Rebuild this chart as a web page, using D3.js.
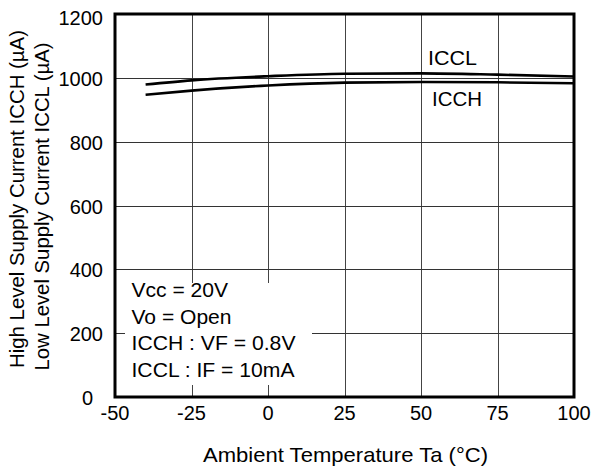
<!DOCTYPE html>
<html><head><meta charset="utf-8">
<script src="https://cdn.jsdelivr.net/npm/d3@7"></script>
<style>body{margin:0;background:#fff}svg{display:block}text{font-family:"Liberation Sans",Arial,sans-serif;fill:#000}</style>
</head><body>
<svg id="c" width="591" height="473"></svg>
<script>
const temps = [-40, -25, 0, 25, 50, 75, 100];
const icclValues = [979, 992, 1005, 1013, 1014, 1010, 1004];
const icchValues = [947, 960, 976, 985, 987, 986, 983];
const xTicks = [-50, -25, 0, 25, 50, 75, 100];
const yTicks = [0, 200, 400, 600, 800, 1000, 1200];
const conditions = ["Vcc = 20V", "Vo = Open", "ICCH : VF = 0.8V", "ICCL : IF = 10mA"];
const yTitleLines = ["High Level Supply Current ICCH (µA)", "Low Level Supply Current ICCL (µA)"];
const xTitle = "Ambient Temperature Ta (°C)";

const L = 115, R = 574, T = 14, B = 397;
const svg = d3.select("#c");
const x = d3.scaleLinear().domain([-50, 100]).range([L, R]);
const y = d3.scaleLinear().domain([0, 1200]).range([B, T]);

// grid
const g = svg.append("g");
g.selectAll("line.v").data(xTicks.slice(1, -1)).enter().append("line")
  .attr("x1", d => Math.round(x(d)) + 0.5).attr("x2", d => Math.round(x(d)) + 0.5).attr("y1", T).attr("y2", B)
  .attr("stroke", "#444").attr("stroke-width", 1);
g.selectAll("line.h").data(yTicks.slice(1, -1)).enter().append("line")
  .attr("x1", L).attr("x2", R).attr("y1", d => Math.round(y(d)) + 0.5).attr("y2", d => Math.round(y(d)) + 0.5)
  .attr("stroke", "#333").attr("stroke-width", 1);

// condition box (white) covering grid
svg.append("rect").attr("x", 125).attr("y", 283).attr("width", 187).attr("height", 102).attr("fill", "#fff");
const condLen = [96.6, 100, 164, 163];
svg.selectAll("text.cond").data(conditions).enter().append("text")
  .attr("x", 131.5).attr("y", (d, i) => 297 + i * 26.7)
  .attr("font-size", 20).attr("textLength", (d, i) => condLen[i]).attr("lengthAdjust", "spacingAndGlyphs")
  .text(d => d);

// curves
const line = d3.line().x(d => x(d[0])).y(d => y(d[1])).curve(d3.curveMonotoneX);
[icclValues, icchValues].forEach(vals => {
  svg.append("path").datum(temps.map((t, i) => [t, vals[i]]))
    .attr("d", line).attr("fill", "none").attr("stroke", "#000").attr("stroke-width", 2.6);
});
svg.append("text").attr("x", 428).attr("y", 65).attr("font-size", 20)
  .attr("textLength", 49).attr("lengthAdjust", "spacingAndGlyphs").text("ICCL");
svg.append("text").attr("x", 432).attr("y", 106).attr("font-size", 20)
  .attr("textLength", 50).attr("lengthAdjust", "spacingAndGlyphs").text("ICCH");

// frame
svg.append("rect").attr("x", L).attr("y", T).attr("width", R - L).attr("height", B - T)
  .attr("fill", "none").attr("stroke", "#000").attr("stroke-width", 3);

// y tick labels
svg.selectAll("text.yt").data(yTicks).enter().append("text")
  .attr("x", d => d === 0 ? 93 : 103).attr("y", d => y(d) + (d === 1200 ? 11 : 8))
  .attr("text-anchor", "end").attr("font-size", 20).text(d => d);
// x tick labels
svg.selectAll("text.xt").data(xTicks).enter().append("text")
  .attr("x", d => x(d)).attr("y", 420)
  .attr("text-anchor", "middle").attr("font-size", 20).text(d => d);

// titles
svg.append("text").attr("x", 345.5).attr("y", 462).attr("text-anchor", "middle").attr("font-size", 21)
  .attr("textLength", 285).attr("lengthAdjust", "spacingAndGlyphs").text(xTitle);
const yLen = [338, 328], yCen = [199, 206.5];
svg.selectAll("text.yl").data(yTitleLines).enter().append("text")
  .attr("transform", (d, i) => `translate(${24 + i * 25},${yCen[i]}) rotate(-90)`)
  .attr("text-anchor", "middle").attr("font-size", 20)
  .attr("textLength", (d, i) => yLen[i]).attr("lengthAdjust", "spacingAndGlyphs").text(d => d);
</script>
</body></html>
